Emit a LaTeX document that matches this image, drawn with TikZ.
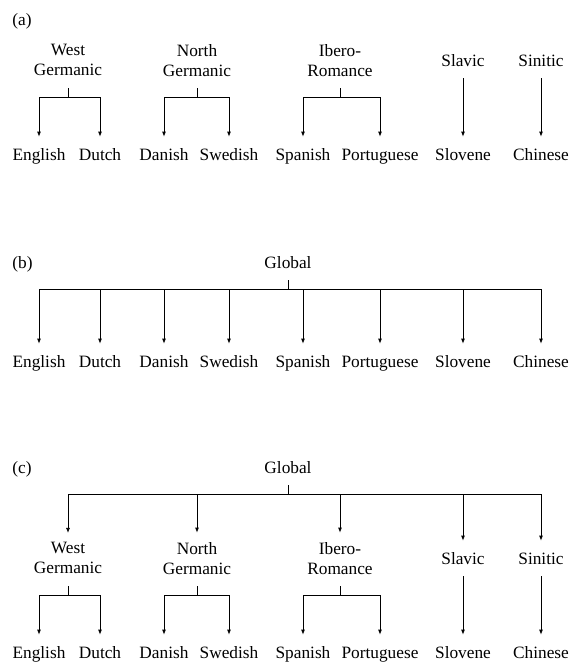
\documentclass[tikz,border=0pt]{standalone}
\usepackage{fontspec}
\setmainfont{Liberation Serif}
\usetikzlibrary{arrows.meta}
\newcommand{\twoline}[2]{#1\\\strut#2}

\begin{document}
\begin{tikzpicture}[x=1pt,y=-1pt,line width=0.8pt,font=\fontsize{17.3}{20}\selectfont,
	every node/.style={align=center,inner xsep=1pt,inner ysep=6pt,execute at begin node=\strut},
	arr/.style={-{Latex[length=5pt,width=4pt]},shorten >=3pt}]
    \useasboundingbox (0,0) rectangle (574,662);

    % panel labels
    \node[anchor=west] (la) at (11,21) {(a)};
    \node[anchor=west] (lb) at (11,264) {(b)};
    \node[anchor=west] (lc) at (11,469) {(c)};

    % leaves, same in every panel
    \foreach \n/\x/\t in {en/39/English,du/100/Dutch,da/164/Danish,sw/229/Swedish,
        sp/303/Spanish,pt/380/Portuguese,sv/463/Slovene,zh/541/Chinese}{
      \node (a\n) at (\x,156) {\t};
      \node (b\n) at (\x,363) {\t};
      \node (c\n) at (\x,654) {\t};
    }

    % (a) families
    \node (awg) at (68,63) {\twoline{West}{Germanic}};
    \node (ang) at (197,63) {\twoline{North}{Germanic}};
    \node (air) at (340,63) {\twoline{Ibero-}{Romance}};
    \node (asl) at (463,62) {Slavic};
    \node (asi) at (541,62) {Sinitic};
    \draw (awg.south) -- ++(0,9) coordinate (awgj);
    \draw (ang.south) -- ++(0,9) coordinate (angj);
    \draw (air.south) -- ++(0,9) coordinate (airj);
    \draw[arr] (awgj) -| (aen.north);
    \draw[arr] (awgj) -| (adu.north);
    \draw[arr] (angj) -| (ada.north);
    \draw[arr] (angj) -| (asw.north);
    \draw[arr] (airj) -| (asp.north);
    \draw[arr] (airj) -| (apt.north);
    \draw[arr] (asl) -- (asv);
    \draw[arr] (asi) -- (azh);

    % (b) one global root
    \node (bgl) at (288,264) {Global};
    \draw (bgl.south) -- ++(0,9) coordinate (bglj);
    \foreach \n in {en,du,da,sw,sp,pt,sv,zh}
      \draw[arr] (bglj) -| (b\n.north);

    % (c) global root over families
    \node (cgl) at (288,469) {Global};
    \node (cwg) at (68,561) {\twoline{West}{Germanic}};
    \node (cng) at (197,561) {\twoline{North}{Germanic}};
    \node (cir) at (340,561) {\twoline{Ibero-}{Romance}};
    \node (csl) at (463,560) {Slavic};
    \node (csi) at (541,560) {Sinitic};
    \draw (cgl.south) -- ++(0,9) coordinate (cglj);
    \foreach \n in {wg,ng,ir,sl,si}
      \draw[arr] (cglj) -| (c\n.north);
    \draw (cwg.south) -- ++(0,9) coordinate (cwgj);
    \draw (cng.south) -- ++(0,9) coordinate (cngj);
    \draw (cir.south) -- ++(0,9) coordinate (cirj);
    \draw[arr] (cwgj) -| (cen.north);
    \draw[arr] (cwgj) -| (cdu.north);
    \draw[arr] (cngj) -| (cda.north);
    \draw[arr] (cngj) -| (csw.north);
    \draw[arr] (cirj) -| (csp.north);
    \draw[arr] (cirj) -| (cpt.north);
    \draw[arr] (csl) -- (csv);
    \draw[arr] (csi) -- (czh);
\end{tikzpicture}
\end{document}
